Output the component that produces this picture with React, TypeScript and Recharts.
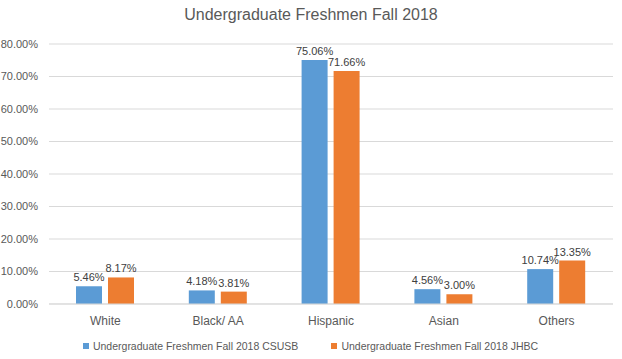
import { Bar, BarChart, CartesianGrid, LabelList, Legend, XAxis, YAxis } from "recharts";

const categories = ["White", "Black/ AA", "Hispanic", "Asian", "Others"];
const csusb = [5.46, 4.18, 75.06, 4.56, 10.74];
const jhbc = [8.17, 3.81, 71.66, 3.0, 13.35];
const yTicks = [0, 10, 20, 30, 40, 50, 60, 70, 80];

const data = categories.map((name, i) => ({ name, csusb: csusb[i], jhbc: jhbc[i] }));

const font = "'Liberation Sans', Arial, sans-serif";
const textGray = "#595959";
const pct = (v: number) => `${Number(v).toFixed(2)}%`;

function LegendRow({ payload }: any) {
  return (
    <div style={{ display: "flex", justifyContent: "center", alignItems: "center", height: 27, paddingLeft: 8 }}>
      {(payload || []).map((p: any, i: number) => (
        <div key={i} style={{ display: "flex", alignItems: "center", marginLeft: i ? 33 : 0 }}>
          <span style={{ width: 6, height: 6, background: p.color, marginRight: 4, display: "inline-block" }} />
          <span style={{ color: textGray, fontSize: 10.5 }}>{p.value}</span>
        </div>
      ))}
    </div>
  );
}

export default function App() {
  return (
    <div style={{ position: "absolute", left: 0, top: 0, width: 622, height: 359, background: "#fff", fontFamily: font }}>
      <div
        style={{
          position: "absolute",
          top: 6,
          left: 0,
          width: 622,
          textAlign: "center",
          fontSize: 16,
          color: textGray,
        }}
      >
        Undergraduate Freshmen Fall 2018
      </div>
      <BarChart
        width={622}
        height={359}
        data={data}
        margin={{ top: 44, right: 9, left: 0, bottom: 0 }}
        barSize={26}
        barGap={6}
        style={{ fontFamily: font }}
      >
        <CartesianGrid stroke="#d9d9d9" vertical={false} />
        <XAxis
          dataKey="name"
          height={28}
          axisLine={{ stroke: "#d9d9d9" }}
          tickLine={false}
          tick={{ fontSize: 12, fill: textGray }}
          tickMargin={6}
        />
        <YAxis
          width={49}
          domain={[0, 80]}
          ticks={yTicks}
          tickFormatter={pct}
          axisLine={false}
          tickLine={false}
          tickSize={6}
          tickMargin={5}
          tick={{ fontSize: 11, fill: textGray }}
        />
        <Legend verticalAlign="bottom" height={27} content={LegendRow} />
        <Bar dataKey="csusb" name="Undergraduate Freshmen Fall 2018 CSUSB" fill="#5b9bd5" isAnimationActive={false}>
          <LabelList dataKey="csusb" position="top" offset={5} formatter={(v: any) => pct(v)} style={{ fontSize: 11, fill: "#404040" }} />
        </Bar>
        <Bar dataKey="jhbc" name="Undergraduate Freshmen Fall 2018 JHBC" fill="#ed7d31" isAnimationActive={false}>
          <LabelList dataKey="jhbc" position="top" offset={5} formatter={(v: any) => pct(v)} style={{ fontSize: 11, fill: "#404040" }} />
        </Bar>
      </BarChart>
    </div>
  );
}
